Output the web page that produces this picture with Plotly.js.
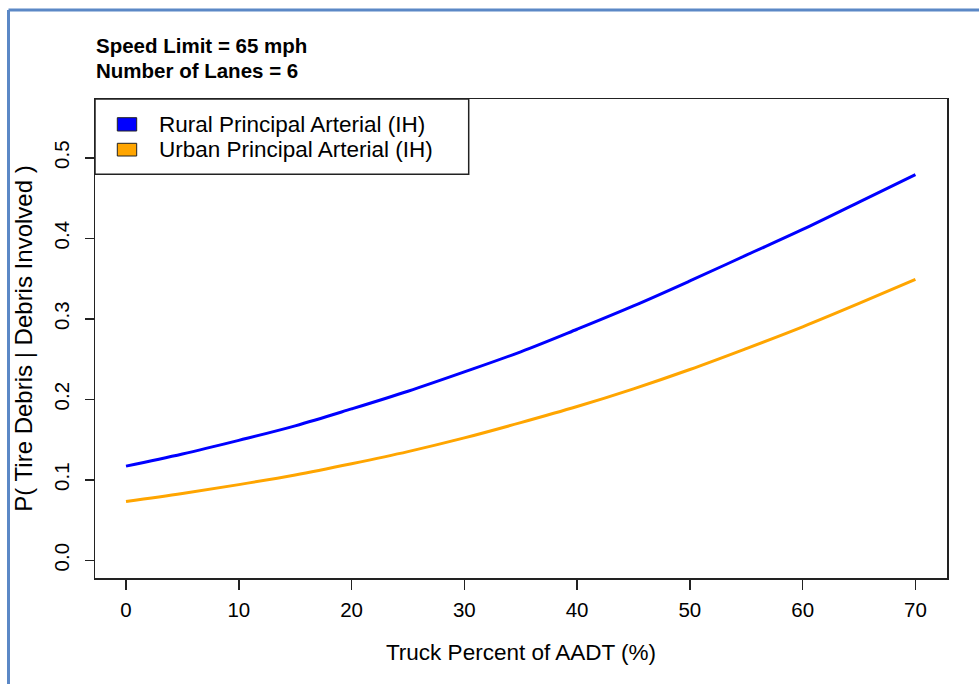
<!DOCTYPE html>
<html>
<head>
<meta charset="utf-8">
<script src="https://cdn.plot.ly/plotly-3.0.1.min.js"></script>
<style>
  html, body { margin: 0; padding: 0; background: #ffffff; }
  #chart { width: 979px; height: 684px; }
</style>
</head>
<body>
<div id="chart"></div>
<script>
// ---- data ----
var truckPct = [0, 5, 10, 15, 20, 25, 30, 35, 40, 45, 50, 55, 60, 65, 70];
var ruralIH  = [0.117, 0.132, 0.149, 0.167, 0.188, 0.210, 0.234, 0.259, 0.287, 0.316, 0.347, 0.379, 0.411, 0.445, 0.479];
var urbanIH  = [0.073, 0.083, 0.094, 0.106, 0.120, 0.135, 0.152, 0.171, 0.191, 0.213, 0.237, 0.263, 0.290, 0.319, 0.349];
var seriesNames = ["Rural Principal Arterial (IH)", "Urban Principal Arterial (IH)"];
var seriesColors = ["#0000FF", "#FFA500"];
var xTicks = [0, 10, 20, 30, 40, 50, 60, 70];
var yTicks = [0.0, 0.1, 0.2, 0.3, 0.4, 0.5];
var yTickLabels = ["0.0", "0.1", "0.2", "0.3", "0.4", "0.5"];
var titleLines = ["Speed Limit = 65 mph", "Number of Lanes = 6"];
var xTitle = "Truck Percent of AADT (%)";
var yTitle = "P( Tire Debris | Debris Involved )";

// ---- layout geometry ----
var W = 979, H = 684;
var M = {l: 95, r: 32, t: 99, b: 106};
var PW = W - M.l - M.r, PH = H - M.t - M.b;
function px(x) { return (x - M.l) / PW; }
function py(y) { return (H - M.b - y) / PH; }

var FONT = "Liberation Sans, Arial, Helvetica, sans-serif";
var AX = "#222222";

var traces = [
  {x: truckPct, y: ruralIH, type: "scatter", mode: "lines", name: seriesNames[0],
   line: {color: seriesColors[0], width: 3, shape: "spline"}, showlegend: false},
  {x: truckPct, y: urbanIH, type: "scatter", mode: "lines", name: seriesNames[1],
   line: {color: seriesColors[1], width: 3, shape: "spline"}, showlegend: false}
];

var shapes = [
  // legend box
  {type: "rect", xref: "paper", yref: "paper", x0: px(95), x1: px(468.7), y0: py(174.3), y1: py(99),
   line: {color: AX, width: 1.5}, fillcolor: "#ffffff", layer: "above"},
  // legend swatches
  {type: "rect", xref: "paper", yref: "paper", x0: px(117.3), x1: px(136.7), y0: py(131), y1: py(117.7),
   line: {color: AX, width: 1}, fillcolor: seriesColors[0], layer: "above"},
  {type: "rect", xref: "paper", yref: "paper", x0: px(117.3), x1: px(136.7), y0: py(156), y1: py(143.3),
   line: {color: AX, width: 1}, fillcolor: seriesColors[1], layer: "above"},
  // screenshot frame
  {type: "line", xref: "paper", yref: "paper", x0: px(8.5), x1: px(8.5), y0: py(10), y1: py(700),
   line: {color: "#5B88C6", width: 3}, layer: "above"},
  {type: "line", xref: "paper", yref: "paper", x0: px(8.5), x1: px(1000), y0: py(10), y1: py(10),
   line: {color: "#5B88C6", width: 3}, layer: "above"}
];

var annotations = [
  {xref: "paper", yref: "paper", x: px(157), y: py(124.5), xanchor: "left", yanchor: "middle",
   text: seriesNames[0], showarrow: false, font: {family: FONT, size: 22.5, color: "#000"}},
  {xref: "paper", yref: "paper", x: px(157), y: py(149.7), xanchor: "left", yanchor: "middle",
   text: seriesNames[1], showarrow: false, font: {family: FONT, size: 22.5, color: "#000"}},
  {xref: "paper", yref: "paper", x: px(94), y: py(45.7), xanchor: "left", yanchor: "middle",
   text: "<b>" + titleLines[0] + "</b>", showarrow: false, font: {family: FONT, size: 20.5, color: "#000"}},
  {xref: "paper", yref: "paper", x: px(94), y: py(70.7), xanchor: "left", yanchor: "middle",
   text: "<b>" + titleLines[1] + "</b>", showarrow: false, font: {family: FONT, size: 20.5, color: "#000"}}
];

var layout = {
  width: W, height: H,
  margin: M,
  paper_bgcolor: "#ffffff", plot_bgcolor: "#ffffff",
  font: {family: FONT, size: 20.5, color: "#000"},
  showlegend: false,
  xaxis: {
    range: [-2.75, 72.8], tickmode: "array", tickvals: xTicks,
    showgrid: false, zeroline: false,
    showline: true, mirror: true, linecolor: AX, linewidth: 1.5,
    ticks: "outside", ticklen: 10, tickwidth: 1.5, tickcolor: AX,
    ticklabelstandoff: 3,
    tickfont: {family: FONT, size: 20.5, color: "#000"},
    title: {text: xTitle, font: {family: FONT, size: 22.5, color: "#000"}, standoff: 24}
  },
  yaxis: {
    range: [-0.022, 0.573], tickmode: "array", tickvals: yTicks, ticktext: yTickLabels,
    showgrid: false, zeroline: false,
    showline: true, mirror: true, linecolor: AX, linewidth: 1.5,
    ticks: "outside", ticklen: 9, tickwidth: 1.5, tickcolor: AX,
    tickangle: -90, ticklabelstandoff: 7,
    tickfont: {family: FONT, size: 20.5, color: "#000"},
    title: {text: yTitle, font: {family: FONT, size: 24, color: "#000"}, standoff: 11}
  },
  shapes: shapes,
  annotations: annotations
};

Plotly.newPlot("chart", traces, layout, {displayModeBar: false, staticPlot: true});
</script>
</body>
</html>
